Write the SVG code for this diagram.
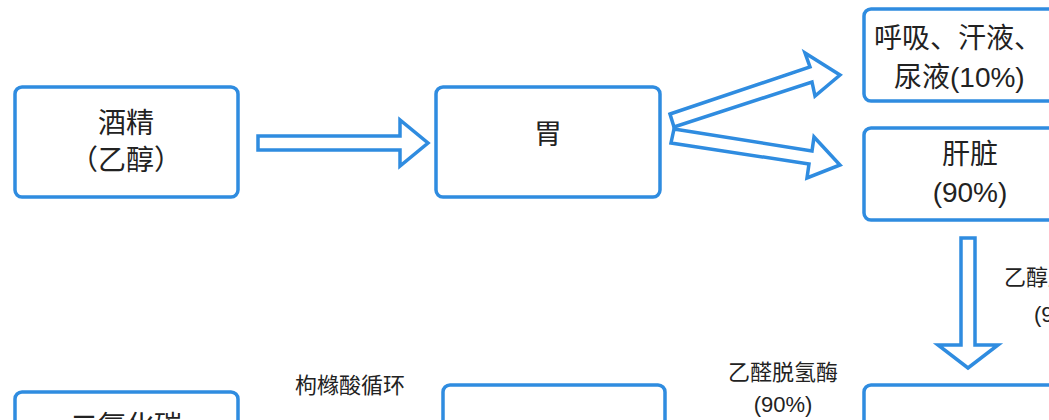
<svg xmlns="http://www.w3.org/2000/svg" width="1049" height="420" viewBox="0 0 1049 420">
<style>
.box{fill:#fff;stroke:#2f8ce0;stroke-width:3.5}
.arr{fill:#fff;stroke:#2f8ce0;stroke-width:3.5;stroke-linejoin:miter}
text{font-family:"Liberation Sans","Noto Sans CJK SC",sans-serif;fill:#222;text-anchor:middle}
.n{font-size:28px}
.l{font-size:22px}
.s{text-anchor:start}
</style>
<rect width="1049" height="420" fill="#fff"/>
<g id="connectors">
<polygon class="arr" points="258,136 400,136 400,120 428,143 400,166 400,150 258,150"/>
<polygon class="arr" points="670,114 810,67 805,53 840,75 815,96 812,82 674,127"/>
<polygon class="arr" points="674,129 812,151 814,137 840,165 807,178 809,164 671,143"/>
<polygon class="arr" points="961,238 975,238 975,345 998,345 968,368 938,345 961,345"/>
<text class="l s" x="1004" y="285">乙醇脱氢酶</text>
<text class="l s" x="1034" y="322">(90%)</text>
<text class="l" x="350" y="393">枸橼酸循环</text>
<text class="l" x="783" y="380">乙醛脱氢酶</text>
<text class="l" x="783" y="412">(90%)</text>
</g>
<g id="n1"><rect class="box" x="15" y="87" width="223" height="110" rx="7"/><text class="n" x="126" y="133">酒精</text><text class="n" x="126" y="170">（乙醇）</text></g>
<g id="n2"><rect class="box" x="436" y="87" width="224" height="110" rx="7"/><text class="n" x="548" y="144">胃</text></g>
<g id="n3"><rect class="box" x="864" y="9" width="200" height="92" rx="7"/><text class="n s" x="874" y="48">呼吸、汗液、</text><text class="n s" x="894" y="87">尿液(10%)</text></g>
<g id="n4"><rect class="box" x="864" y="128" width="200" height="92" rx="7"/><text class="n" x="970" y="164">肝脏</text><text class="n" x="970" y="202">(90%)</text></g>
<g id="n5"><rect class="box" x="15" y="392" width="223" height="60" rx="7"/><text class="n" x="126" y="436">二氧化碳</text></g>
<g id="n6"><rect class="box" x="443" y="385" width="222" height="60" rx="7"/></g>
<g id="n7"><rect class="box" x="864" y="385" width="200" height="60" rx="7"/></g>
</svg>
